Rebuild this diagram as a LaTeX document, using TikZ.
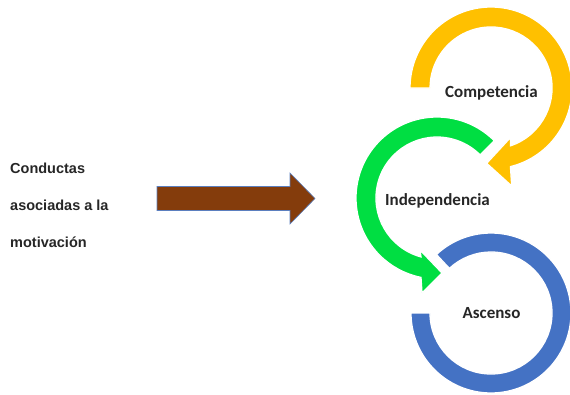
\documentclass[tikz,border=0pt]{standalone}
\usepackage{fontspec}
\setmainfont{Liberation Sans}
\newfontfamily\labelfont{Carlito}
\definecolor{cYellow}{RGB}{255,192,0}
\definecolor{cGreen}{RGB}{0,222,66}
\definecolor{cBlue}{RGB}{68,114,196}
\definecolor{cBrown}{RGB}{132,60,12}
\definecolor{cEdge}{RGB}{91,127,191}
\begin{document}
\begin{tikzpicture}[x=1pt,y=1pt,
  ringshape/.style={draw=white,line width=1.3pt,line join=miter},
  lefttext/.style={anchor=base west,inner sep=0pt,font=\fontsize{14.5}{17}\selectfont\bfseries,text=black!85},
  ringlabel/.style={anchor=base,inner sep=0pt,font=\labelfont\fontsize{17}{20}\selectfont\bfseries,text=black!85}]
\useasboundingbox (0,0) rectangle (570,-394);
\clip (0,0) rectangle (570,-394);
% blue ring
\begin{scope}[shift={(491,-313)}]
\path[ringshape,fill=cBlue] (133:61pt) -- (133:80pt)
  arc[start angle=133,end angle=-180,radius=80pt] -- (-180:61pt)
  arc[start angle=-180,end angle=133,radius=61pt] -- cycle;
\end{scope}
% green ring arrow
\begin{scope}[shift={(437,-198)}]
\path[ringshape,fill=cGreen] (45:61pt) -- (45:81pt)
  arc[start angle=45,end angle=258.6,radius=81pt] -- (-15,-95) -- (5,-75) -- (-17,-52) -- (-16,-58.9)
  arc[start angle=254.8,end angle=45,radius=61pt] -- cycle;
\end{scope}
% yellow ring arrow
\begin{scope}[shift={(491,-88)}]
\path[ringshape,fill=cYellow] (180:61pt) -- (180:81pt)
  arc[start angle=180,end angle=-76.1,radius=81pt] -- (20.7,-98) -- (-4.3,-75.3) -- (19.7,-49.3) -- (19.5,-57.8)
  arc[start angle=-71.4,end angle=180,radius=61pt] -- cycle;
\end{scope}
% brown block arrow
\path[fill=cBrown,draw=cEdge,line width=0.6pt] (157,-186.5) -- (290,-186.5) -- (290,-173) -- (315,-198.5)
  -- (290,-224) -- (290,-210.5) -- (157,-210.5) -- cycle;
% texts
\node[lefttext] (t1) at (10,-173) {Conductas};
\node[lefttext] (t2) at (10,-210) {asociadas a la};
\node[lefttext] (t3) at (10,-247) {motivación};
\node[ringlabel] (comp) at (491.5,-97) {Competencia};
\node[ringlabel] (indep) at (437.5,-205) {Independencia};
\node[ringlabel] (asc) at (491.5,-318) {Ascenso};
\end{tikzpicture}
\end{document}
